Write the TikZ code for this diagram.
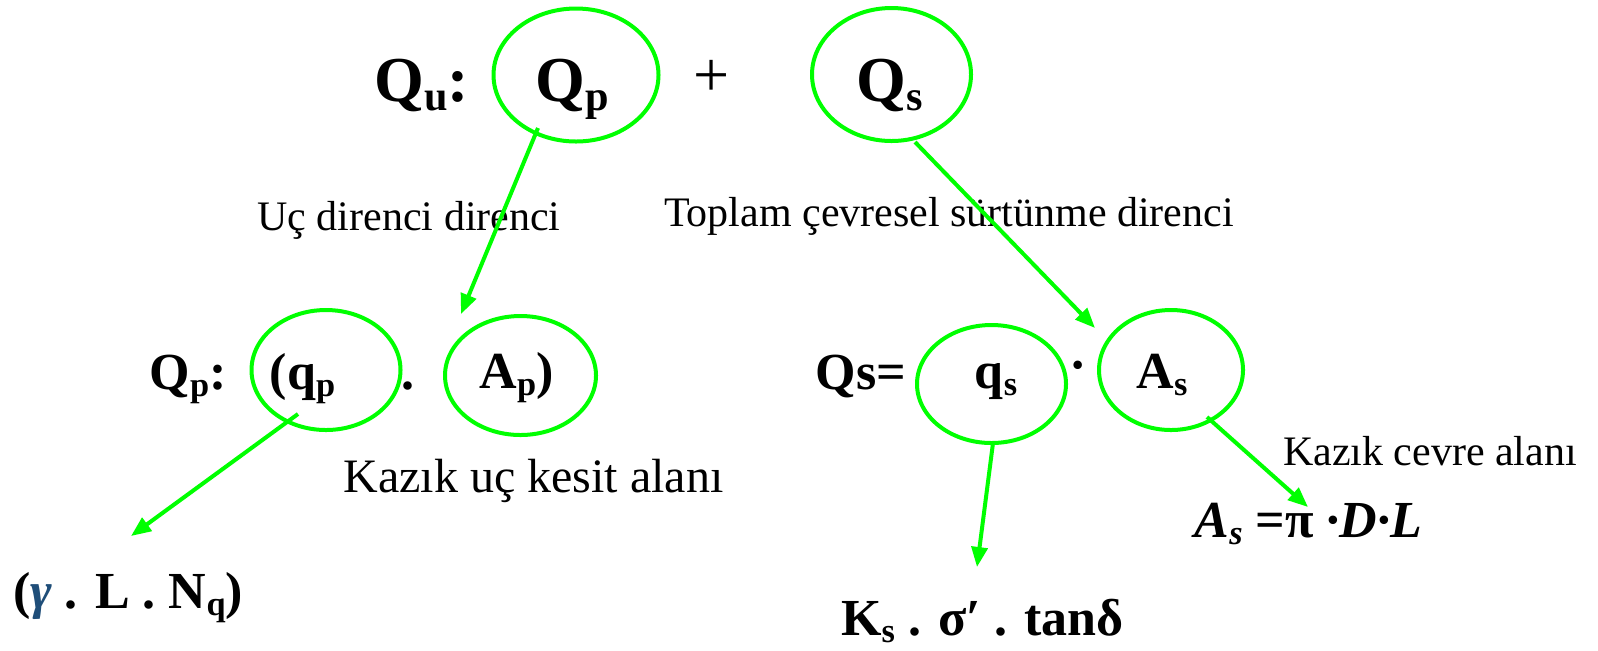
\documentclass[tikz,border=0pt]{standalone}
\usepackage{fontspec}
\setmainfont{Liberation Serif}
\usepackage{graphicx}
\usetikzlibrary{shapes.geometric,arrows.meta}
\definecolor{lgreen}{RGB}{0,255,0}
\definecolor{gblue}{RGB}{31,78,121}
\newcommand{\sbx}[1]{\raisebox{-0.15em}{\scalebox{0.66}{#1}}}
\begin{document}
\begin{tikzpicture}[x=0.5pt,y=-0.5pt,
  oval/.style={draw=lgreen,line width=2pt,ellipse,inner sep=0pt},
  big/.style={font=\fontsize{32}{36}\selectfont\bfseries,inner sep=0pt,anchor=base},
  mid/.style={font=\fontsize{26}{30}\selectfont\bfseries,inner sep=0pt,anchor=base},
  lbl/.style={font=\fontsize{21}{25}\selectfont,inner sep=0pt,anchor=base},
  arr/.style={draw=lgreen,line width=2pt,-{Triangle[length=10pt,width=8pt]}}]
\fill[white] (0,0) rectangle (1598,650);
\useasboundingbox (0,0) rectangle (1598,650);
% ellipses
\node[oval,minimum width=82.5pt,minimum height=66.5pt] (Qpe) at (576,75) {};
\node[oval,minimum width=79.5pt,minimum height=66.5pt] (Qse) at (891.5,74.5) {};
\node[oval,minimum width=74.5pt,minimum height=60pt] (qpe) at (326,370) {};
\node[oval,minimum width=75.5pt,minimum height=59.5pt] (Ape) at (520.5,375.5) {};
\node[oval,minimum width=74.5pt,minimum height=59pt] (qse) at (991.5,384) {};
\node[oval,minimum width=72pt,minimum height=60pt] (Ase) at (1171,370) {};
% top row
\node[big] (Qu) at (422,101) {Q\sbx{u}:};
\node[big] (Qp) at (572,101) {Q\sbx{p}};
\node[font=\fontsize{32}{36}\selectfont,inner sep=0pt] (plus) at (712,78) {+};
\node[big] (Qs) at (890,101) {Q\sbx{s}};
% labels
\node[lbl] (l1) at (409,230) {Uç direnci direnci};
\node[lbl] (l2) at (949,226) {Toplam çevresel sürtünme direnci};
% row 2
\node[mid] (Qp2) at (188,389) {Q\sbx{p}:};
\node[mid] (qp) at (302.5,389) {(q\sbx{p}};
\node[mid] (dot1) at (408,389) {.};
\node[mid] (Ap) at (516.5,388) {A\sbx{p})};
\node[mid] (Qs2) at (861,389) {Qs=};
\node[mid] (qs) at (996,388) {q\sbx{s}};
\node[font=\fontsize{26}{30}\selectfont\bfseries,inner sep=0pt] (dot2) at (1078,372) {·};
\node[mid] (As) at (1162,388) {A\sbx{s}};
\node[lbl,font=\fontsize{24}{28}\selectfont] (l3) at (533.5,492) {Kazık uç kesit alanı};
\node[lbl] (l4) at (1430,465) {Kazık cevre alanı};
% bottom formulas
\node[mid] (f1) at (128,608) {({\color{gblue}\itshape γ} . L . N\sbx{q})};
\node[mid] (f2) at (982.5,635) {K\sbx{s} . σ′ . tanδ};
\node[mid] (f3) at (1308.5,537) {\itshape A\sbx{s} \upshape=π \itshape·D·L};
% connector ends
\coordinate (a1s) at (538,128); \coordinate (a1e) at (461,314);
\coordinate (a2s) at (915,142); \coordinate (a2e) at (1095,328);
\coordinate (a3s) at (298,414); \coordinate (a3e) at (131,536);
\coordinate (a4s) at (993,443); \coordinate (a4e) at (977,567);
\coordinate (a5s) at (1207,417); \coordinate (a5e) at (1308,507);
\draw[arr] (a1s) -- (a1e);
\draw[arr] (a2s) -- (a2e);
\draw[arr] (a3s) -- (a3e);
\draw[arr] (a4s) -- (a4e);
\draw[arr] (a5s) -- (a5e);
\end{tikzpicture}
\end{document}
